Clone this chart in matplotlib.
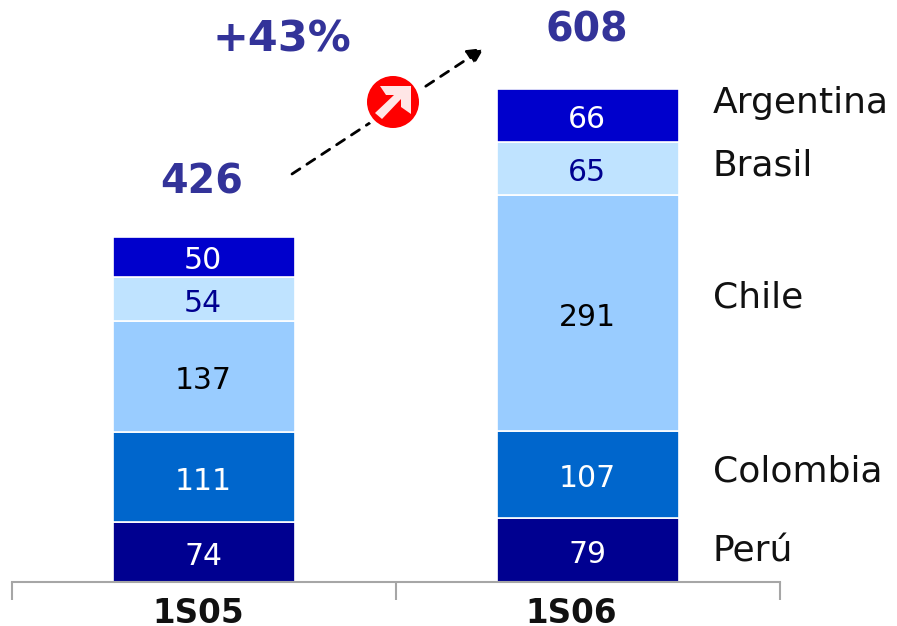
import matplotlib
matplotlib.use("Agg")
import matplotlib.pyplot as plt
from matplotlib.patches import Circle, FancyArrowPatch, Polygon

W, H = 897, 626
periods = ["1S05", "1S06"]
countries = ["Perú", "Colombia", "Chile", "Brasil", "Argentina"]
peru = [74, 79]
colombia = [111, 107]
chile = [137, 291]
brasil = [54, 65]
argentina = [50, 66]
totals = [426, 608]
growth = "+43%"

series = [peru, colombia, chile, brasil, argentina]
colors = ["#000090", "#0066CC", "#99CCFF", "#BFE3FF", "#0000CC"]
label_colors = ["white", "white", "black", "#000090", "white"]
legend_y = [552, 471, 298, 166, 103]
BLUE = "#333399"

plt.rcParams["font.family"] = "DejaVu Sans"
fig = plt.figure(figsize=(W / 100, H / 100), dpi=100)

# data axes: x spans 12..780 px, baseline at 582 px, 0.811 px per unit
ax = fig.add_axes([12 / W, (H - 582) / H, 768 / W, 582 / H])
ax.set_xlim(-0.5, 1.5)
ax.set_ylim(0, 582 / 0.811)
ax.patch.set_alpha(0)
for s in ["top", "left", "right"]:
    ax.spines[s].set_visible(False)
ax.spines["bottom"].set_color("#A6A6A6")
ax.spines["bottom"].set_linewidth(1.5)
ax.set_yticks([])
ax.set_xticks([-0.5, 0.5, 1.5])
ax.set_xticklabels([])
ax.tick_params(axis="x", length=13, width=1.5, color="#A6A6A6")

x = list(range(len(periods)))
bottom = [0, 0]
for vals, c, lc in zip(series, colors, label_colors):
    ax.bar(x, vals, bottom=bottom, width=0.473, color=c, edgecolor="white", linewidth=1.2, zorder=2)
    for i, v in enumerate(vals):
        ax.annotate(str(v), (i, bottom[i] + v / 2), xytext=(-0.7, -3.0), textcoords="offset points",
                    ha="center", va="center", color=lc, fontsize=21.5, zorder=3)
    bottom = [b + v for b, v in zip(bottom, vals)]

# overlay in pixel coordinates for annotations
ov = fig.add_axes([0, 0, 1, 1])
ov.set_xlim(0, W)
ov.set_ylim(H, 0)
ov.axis("off")
ov.patch.set_alpha(0)

for p, px in zip(periods, [198.5, 571]):
    ov.text(px, 623, p, ha="center", va="baseline", fontsize=23.5, fontweight="bold", color="#111111")

for name, y in zip(countries, legend_y):
    ov.text(713, y, name, ha="left", va="center", fontsize=26, color="#111111")

for t, (px, py) in zip(totals, [(202, 182.5), (587, 31)]):
    ov.text(px, py, str(t), ha="center", va="center", fontsize=28.5, fontweight="bold", color=BLUE)
ov.text(282, 40, growth, ha="center", va="center", fontsize=31, fontweight="bold", color=BLUE)

ov.add_patch(FancyArrowPatch((292, 174), (484, 48), arrowstyle="-|>", mutation_scale=24,
                             color="black", lw=2.0, linestyle=(0, (3.4, 3.0)), shrinkA=0, shrinkB=0))
ov.add_patch(Circle((393, 102), 31, facecolor="white", edgecolor="none", zorder=4))
ov.add_patch(Circle((393, 102), 26, facecolor="#FF0000", edgecolor="none", zorder=5))
ov.add_patch(Polygon([[380, 86], [411, 86], [411, 114], [401, 107], [401, 99], [382, 119],
                      [375, 113], [394, 95], [386, 95]],
                     closed=True, facecolor="#FFE6E6", edgecolor="none", zorder=6))

fig.savefig("out.png", dpi=100)
